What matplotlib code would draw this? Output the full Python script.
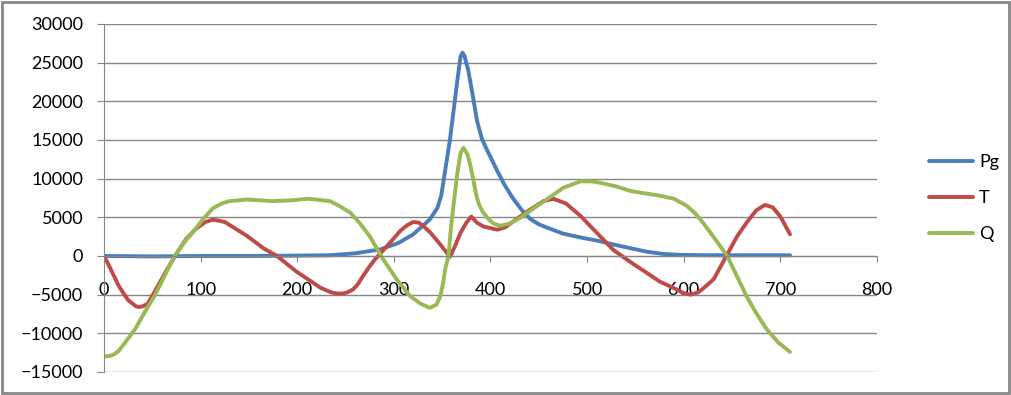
import matplotlib
matplotlib.use("Agg")
import matplotlib.pyplot as plt
from matplotlib.patches import Rectangle

plt.rcParams['font.family'] = ['Lato', 'DejaVu Sans']

# Pg series
pg_x = [0, 50, 100, 150, 200, 234, 260, 286, 305, 320, 337, 345, 349, 353, 358, 363, 366,
        369, 371, 373, 377, 382, 386, 391, 396, 400, 407, 415, 423, 432, 441, 450, 458,
        475, 493, 510, 527, 545, 562, 580, 596, 620, 660, 710]
pg_y = [0, -50, 0, 0, 50, 100, 350, 850, 1700, 2800, 4700, 6200, 7800, 11000, 15000,
        20000, 23000, 25800, 26300, 25900, 24000, 20500, 17500, 15200, 13800, 12800,
        11000, 9100, 7500, 6000, 4800, 4100, 3700, 2900, 2400, 2000, 1500, 1000, 550,
        250, 150, 100, 100, 100]

# T series
t_x = [0, 5, 10, 15, 20, 25, 30, 33, 36, 40, 45, 53, 65, 75, 85, 95, 105, 113, 125, 148,
       165, 179, 199, 224, 235, 241, 247, 252, 258, 263, 268, 274, 280, 293, 307, 314,
       320, 326, 331, 338, 348, 358, 363, 369, 375, 380, 386, 393, 400, 407, 415, 425,
       441, 455, 465, 478, 493, 510, 527, 545, 562, 575, 589, 600, 607, 615, 622, 631,
       645, 655, 665, 675, 684, 692, 700, 710]
t_y = [0, -1200, -2500, -3800, -4800, -5700, -6200, -6500, -6600, -6500, -6200, -4500,
       -1800, 300, 2200, 3500, 4400, 4700, 4400, 2600, 1000, 0, -2000, -4100, -4700,
       -4850, -4850, -4700, -4300, -3600, -2600, -1500, -500, 1300, 3300, 4000, 4400,
       4300, 3800, 3000, 1500, -100, 1200, 3000, 4300, 5100, 4300, 3800, 3600, 3400,
       3700, 4600, 6000, 7100, 7400, 6800, 5200, 3000, 800, -800, -2200, -3300, -4100,
       -4800, -5000, -4700, -4000, -3000, 200, 2500, 4300, 5900, 6600, 6300, 5100, 2800]

# Q series
q_x = [0, 5, 10, 15, 20, 32, 42, 53, 63, 73, 84, 94, 104, 113, 122, 130, 148, 175, 195,
       210, 220, 234, 244, 255, 265, 275, 289, 303, 317, 328, 337, 344, 348, 351, 353,
       356.5, 359, 362, 366, 369, 372, 376, 379, 382, 385, 388, 392, 397, 403, 410, 420,
       431, 445, 458, 475, 493, 505, 514, 530, 545, 560, 575, 590, 603, 612, 620, 633,
       645, 655, 665, 675, 686, 698, 710]
q_y = [-13000, -12950, -12750, -12300, -11500, -9500, -7300, -5000, -2500, 0, 1900, 3400,
       5000, 6200, 6800, 7100, 7300, 7100, 7200, 7400, 7300, 7090, 6440, 5590, 4200, 2560,
       -450, -3040, -5200, -6200, -6700, -6300, -5200, -3500, -1750, 0, 3500, 6900, 11000,
       13300, 14000, 13200, 11800, 10000, 8000, 6700, 5700, 4900, 4200, 3900, 4200, 4950,
       6200, 7300, 8800, 9650, 9650, 9450, 9000, 8400, 8100, 7800, 7400, 6500, 5500, 4300,
       2100, 0, -2600, -5200, -7400, -9500, -11200, -12400]

x_ticks = list(range(0, 801, 100))
y_ticks = list(range(-15000, 30001, 5000))

fig = plt.figure(figsize=(10.12, 3.95), dpi=100)
ax = fig.add_axes([104 / 1012, 23 / 395, 773 / 1012, 348 / 395])

lw = 2.8
ax.plot(pg_x, pg_y, color='#4A7EBB', lw=lw, label='Pg', solid_joinstyle='round', solid_capstyle='round')
ax.plot(t_x, t_y, color='#BE4B48', lw=lw, label='T', solid_joinstyle='round', solid_capstyle='round')
ax.plot(q_x, q_y, color='#98B954', lw=lw, label='Q', solid_joinstyle='round', solid_capstyle='round')

ax.set_xlim(0, 800)
ax.set_ylim(-15000, 30000)
ax.set_xticks(x_ticks)
ax.set_yticks(y_ticks)
ax.yaxis.grid(True, color='#868686', lw=1.0)
ax.set_axisbelow(True)

for s in ['top', 'right']:
    ax.spines[s].set_visible(False)
ax.spines['bottom'].set_position(('data', 0))
ax.spines['bottom'].set_color('#868686')
ax.spines['left'].set_color('#868686')
ax.tick_params(axis='x', direction='out', length=4, color='#868686', labelsize=13, pad=15)
ax.tick_params(axis='y', direction='out', length=5, color='#868686', labelsize=13, pad=10)

fig.legend(loc='center left', bbox_to_anchor=(913 / 1012, 1 - 198 / 395), frameon=False,
           fontsize=13, handlelength=2.4, handletextpad=0.35, labelspacing=1.1)

fig.patches.append(Rectangle((0.002, 0.004), 0.995, 0.992, transform=fig.transFigure,
                             fill=False, ec='#878787', lw=2))

fig.savefig('out.png', dpi=100)
